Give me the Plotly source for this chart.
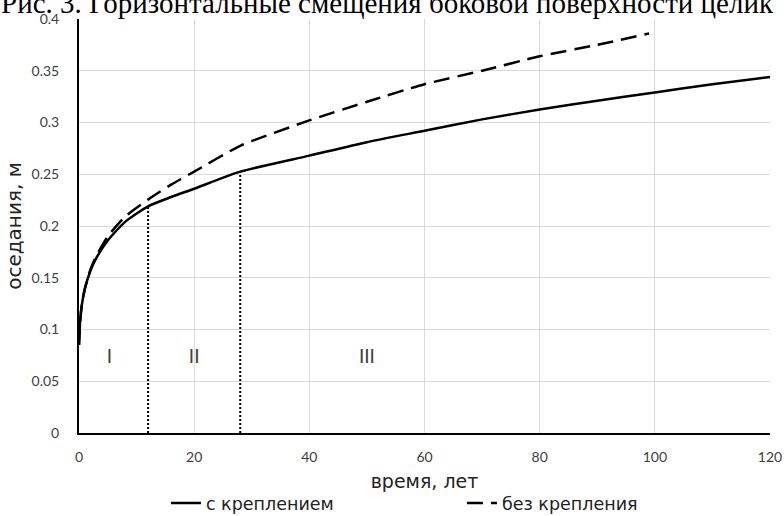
import plotly.graph_objects as go

# ---- data ----
years_supported = [0, 0.2, 0.5, 1, 2, 3, 5, 8, 12, 16, 20, 28, 40, 50, 60, 70, 80, 90, 100, 110, 120]
settle_supported = [0.085, 0.108, 0.124, 0.139, 0.157, 0.169, 0.186, 0.204, 0.219, 0.228, 0.236, 0.2525,
                    0.268, 0.281, 0.292, 0.303, 0.3125, 0.321, 0.329, 0.337, 0.344]

years_unsupported = [0, 0.2, 0.5, 1, 2, 3, 5, 8, 12, 16, 20, 28, 40, 50, 60, 70, 80, 90, 99]
settle_unsupported = [0.085, 0.108, 0.124, 0.139, 0.158, 0.171, 0.19, 0.209, 0.2255, 0.24, 0.2525, 0.2775,
                      0.302, 0.32, 0.337, 0.350, 0.364, 0.375, 0.386]

stage_bounds = [12, 28]
stage_bound_tops = [0.219, 0.2525]

stage_names = ["I", "II", "III"]
stage_x = [5.3, 20, 50]
stage_y = [0.072, 0.072, 0.072]

series_names = ["с креплением", "без крепления"]
title_text = "Рис. 3. Горизонтальные смещения боковой поверхности целик"
x_title = "время, лет"
y_title = "оседания, м"

FONT = "Lato"
TFONT = "DejaVu Sans"
TXT = "#404040"

fig = go.Figure()

fig.add_trace(go.Scatter(x=years_supported, y=settle_supported, mode="lines",
                         line=dict(color="black", width=2.5, shape="spline", smoothing=0.6),
                         name=series_names[0]))
fig.add_trace(go.Scatter(x=years_unsupported, y=settle_unsupported, mode="lines",
                         line=dict(color="black", width=2.5, dash="16px,8px", shape="spline", smoothing=0.6),
                         name=series_names[1]))

for bx, bt in zip(stage_bounds, stage_bound_tops):
    fig.add_trace(go.Scatter(x=[bx, bx], y=[0, bt], mode="lines",
                             line=dict(color="black", width=2, dash="2px,2px"),
                             showlegend=False, hoverinfo="skip"))

fig.add_trace(go.Scatter(x=stage_x, y=stage_y, mode="text", text=stage_names,
                         textfont=dict(family=FONT, size=19, color=TXT),
                         showlegend=False, hoverinfo="skip"))

fig.add_annotation(text=title_text, xref="paper", yref="paper", x=-0.116, y=1.038,
                   xanchor="left", yanchor="middle", showarrow=False,
                   font=dict(family="Liberation Serif", size=29, color="black"))

fig.update_layout(
    width=784, height=516,
    margin=dict(l=79, r=14, t=19, b=83, autoexpand=False),
    paper_bgcolor="white", plot_bgcolor="white",
    font=dict(family=FONT, color=TXT, size=14),
    showlegend=True,
    legend=dict(orientation="h", x=0.1258, xanchor="left", y=-0.126, yanchor="top",
                font=dict(family=TFONT, size=17.5, color="#222"),
                entrywidth=251, bgcolor="rgba(0,0,0,0)"),
)

fig.update_xaxes(range=[0, 120], tickvals=[0, 20, 40, 60, 80, 100, 120],
                 showgrid=True, gridcolor="#d9d9d9", gridwidth=1,
                 showline=True, linecolor="black", linewidth=2,
                 zeroline=False, ticks="", ticklabelstandoff=10, automargin=False,
                 tickfont=dict(family=FONT, size=14, color=TXT),
                 title=dict(text=x_title, font=dict(family=TFONT, size=19, color="#222"), standoff=11))
fig.update_yaxes(range=[0, 0.4], tickvals=[0, 0.05, 0.1, 0.15, 0.2, 0.25, 0.3, 0.35, 0.4],
                 ticktext=["0", "0.05", "0.1", "0.15", "0.2", "0.25", "0.3", "0.35", "0.4"],
                 showgrid=True, gridcolor="#d9d9d9", gridwidth=1,
                 showline=True, linecolor="black", linewidth=2,
                 zeroline=False, ticks="", ticklabelstandoff=15, automargin=False,
                 tickfont=dict(family=FONT, size=14, color=TXT),
                 title=dict(text=y_title, font=dict(family=TFONT, size=20, color="#222"), standoff=5))

fig.write_html("out.html", config={"displayModeBar": False},
               post_script="document.body.style.margin='0';document.body.style.overflow='hidden';")
